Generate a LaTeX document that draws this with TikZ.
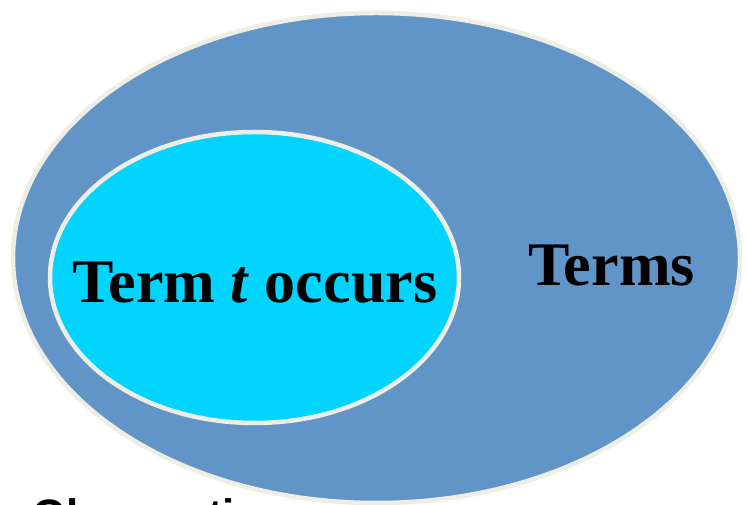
\documentclass[tikz,border=0pt]{standalone}
\usepackage{fontspec}
\setmainfont{Liberation Serif}
\newfontfamily\arialfont{Liberation Sans}
\usetikzlibrary{shapes.geometric}
\definecolor{outerblue}{HTML}{6195C7}
\definecolor{innercyan}{HTML}{00D4FF}
\definecolor{rimcream}{HTML}{EEEEE4}
\tikzset{
  setshape/.style={ellipse, draw=rimcream, line width=4.5pt, inner sep=0pt},
  biglabel/.style={font=\fontsize{62}{70}\selectfont\bfseries, anchor=base, inner sep=0pt},
}
\begin{document}
\begin{tikzpicture}[x=1pt,y=1pt]
\clip (0,0) rectangle (746,505);
\fill[white] (0,0) rectangle (746,505);
\node[setshape, fill=outerblue, minimum width=727pt, minimum height=490pt] (terms) at (376.5,247) {};
\node[setshape, fill=innercyan, minimum width=409pt, minimum height=291pt] (occurs) at (254.5,227.5) {};
\node[biglabel] (occurslabel) at (255,202) {Term \textit{t} occurs};
\node[biglabel] (termslabel) at (611.5,219) {Terms};
\node[font=\fontsize{44}{50}\selectfont\arialfont\bfseries, anchor=base west, inner sep=0pt] (obs) at (32,-25.5) {Observations};
\end{tikzpicture}
\end{document}
